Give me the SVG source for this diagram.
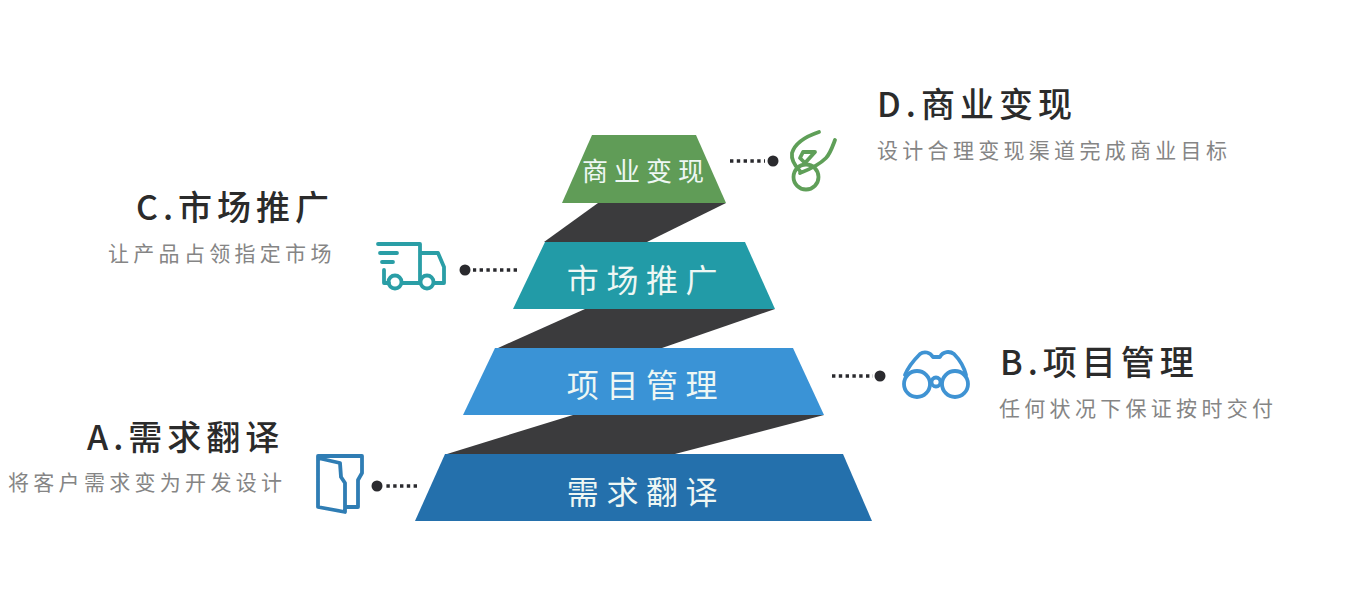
<svg xmlns="http://www.w3.org/2000/svg" width="1350" height="610" viewBox="0 0 1350 610">
<style>
text{font-family:"Noto Sans CJK SC","Noto Sans",sans-serif}
.lv{fill:#eef7f4;font-size:32px;letter-spacing:7.6px;text-anchor:middle}
.t{fill:#2b2b2b;font-size:34px;font-weight:500;letter-spacing:5px}
.s{fill:#858585;font-size:21px;letter-spacing:4.3px}
.dark{fill:#3b3b3d}
.dots{stroke:#2a2a2e;stroke-width:3.4;stroke-dasharray:3.4 3.4;fill:none}
.dot{fill:#2a2a2e}
.ic{fill:none;stroke-width:3.8;stroke-linejoin:round;stroke-linecap:round}
</style>
<rect width="1350" height="610" fill="#fff"/>
<g id="connectors">
<polygon class="dark" points="598,203 726,203 647,242 544,242"/>
<polygon class="dark" points="585,309 775,309 662,348 498,348"/>
<polygon class="dark" points="573,415 824,415 675,454 447,454"/>
<path class="dots" d="M730 161H765"/><circle class="dot" cx="773" cy="161" r="5.5"/>
<path class="dots" d="M517 270H473"/><circle class="dot" cx="465" cy="270" r="5.5"/>
<path class="dots" d="M832 376H873"/><circle class="dot" cx="880" cy="376" r="5.5"/>
<path class="dots" d="M417 486H385"/><circle class="dot" cx="377" cy="486" r="5.5"/>
</g>
<g id="level-d">
<polygon fill="#609c57" points="592,135 696,135 726,203 562,203"/>
<text class="lv" x="646" y="181" style="font-size:26px;letter-spacing:6px">商业变现</text>
</g>
<g id="level-c">
<polygon fill="#229ba7" points="545,242 745,242 775,309 513,309"/>
<text class="lv" x="646" y="292">市场推广</text>
</g>
<g id="level-b">
<polygon fill="#3a93d6" points="495,348 793,348 824,415 463,415"/>
<text class="lv" x="646" y="397">项目管理</text>
</g>
<g id="level-a">
<polygon fill="#2470ac" points="445,454 843,454 872,521 415,521"/>
<text class="lv" x="646" y="504">需求翻译</text>
</g>
<g id="label-d">
<text class="t" x="877" y="117">D.商业变现</text>
<text class="s" x="877" y="158">设计合理变现渠道完成商业目标</text>
<g class="ic" stroke="#5f9f58">
<path d="M819 132C807 136 795 143 792 153C791 160 795 166 800 171M803 152H815L805 163L800 158ZM835 140C832 148 830 154 826 158C818 166 808 170 800 173"/>
<circle cx="806" cy="177" r="12.5"/>
</g>
</g>
<g id="label-c">
<text class="t" x="136" y="220">C.市场推广</text>
<text class="s" x="108" y="261">让产品占领指定市场</text>
<g class="ic" stroke="#2a9ea6">
<path d="M378 244H420V283M389 283H384V270M380 253H397M382 262H393M402 283H420M420 253H438L444 267V283H434"/>
<circle cx="395" cy="282" r="6.5"/><circle cx="427" cy="282" r="6.5"/>
</g>
</g>
<g id="label-b">
<text class="t" x="1000" y="375">B.项目管理</text>
<text class="s" x="999" y="416">任何状况下保证按时交付</text>
<g class="ic" stroke="#3f93d3">
<path d="M905 375C908 367 914 360 920 354C924 351 930 352 933 357H940C943 351 950 351 954 354C960 360 964 367 966 375"/>
<circle cx="917" cy="384" r="13"/><circle cx="955" cy="384" r="13"/><circle cx="936" cy="382" r="4.5"/>
</g>
</g>
<g id="label-a">
<text class="t" x="87" y="450">A.需求翻译</text>
<text class="s" x="8" y="490">将客户需求变为开发设计</text>
<g class="ic" stroke="#2f7db4">
<path d="M318 456H362V473L358 480V507H346M318 456V507L345 512V483L341 477L340 463L318 458"/>
</g>
</g>
</svg>
